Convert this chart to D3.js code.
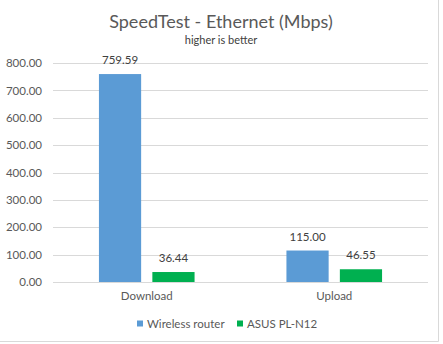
<!DOCTYPE html>
<html><head><meta charset="utf-8">
<script src="https://cdn.jsdelivr.net/npm/d3@7"></script>
<style>body{margin:0;background:#fff;}</style>
</head><body>
<svg id="c" width="443" height="344"></svg>
<script>
const categories = ["Download", "Upload"];
const seriesNames = ["Wireless router", "ASUS PL-N12"];
const wirelessRouter = [759.59, 115.00];
const asusPLN12 = [36.44, 46.55];
const yTicks = [0, 100, 200, 300, 400, 500, 600, 700, 800];
const colors = ["#5B9BD5", "#00B050"];

const svg = d3.select("#c");
const font = "Lato";
const W = 443, H = 344;
const plotL = 53, plotR = 428, plotT = 63, plotB = 282;

svg.append("rect").attr("width", W).attr("height", H).attr("fill", "#fff");
// border right and bottom
svg.append("line").attr("x1", 438.5).attr("x2", 438.5).attr("y1", 0).attr("y2", 341.5).attr("stroke", "#d9d9d9");
svg.append("line").attr("x1", 0).attr("x2", 438.5).attr("y1", 341.5).attr("y2", 341.5).attr("stroke", "#d9d9d9");

const y = d3.scaleLinear().domain([0, 800]).range([plotB, plotT]);
const x0 = d3.scaleBand().domain(categories).range([plotL, plotR]).paddingInner(0.49).paddingOuter(0.245);
const x1 = d3.scaleBand().domain(seriesNames).range([0, x0.bandwidth()]).paddingInner(0.21);

// gridlines
svg.append("g").selectAll("line").data(yTicks).join("line")
  .attr("x1", plotL).attr("x2", plotR)
  .attr("y1", d => Math.round(y(d)) + 0.5).attr("y2", d => Math.round(y(d)) + 0.5)
  .attr("stroke", "#d9d9d9").attr("stroke-width", 1);

// y axis labels
const yAxis = d3.axisLeft(y).tickValues(yTicks).tickFormat(d3.format(".2f")).tickSize(0).tickPadding(0);
const ya = svg.append("g").attr("transform", `translate(${plotL - 11},0)`).call(yAxis);
ya.select(".domain").remove();
ya.selectAll("text").attr("font-family", font).attr("font-size", 11.5).attr("fill", "#595959");

// bars
const data = [wirelessRouter, asusPLN12];
const groups = svg.append("g").selectAll("g").data(categories).join("g")
  .attr("transform", d => `translate(${x0(d)},0)`);
groups.selectAll("rect").data((c, i) => seriesNames.map((s, j) => ({s, v: data[j][i], j}))).join("rect")
  .attr("x", d => x1(d.s)).attr("width", x1.bandwidth())
  .attr("y", d => y(d.v)).attr("height", d => plotB - y(d.v))
  .attr("fill", d => colors[d.j]);
groups.selectAll("text").data((c, i) => seriesNames.map((s, j) => ({s, v: data[j][i], j}))).join("text")
  .attr("x", d => x1(d.s) + x1.bandwidth() / 2).attr("y", d => y(d.v) - 10)
  .attr("text-anchor", "middle").attr("font-family", font).attr("font-size", 11.5).attr("fill", "#404040")
  .text(d => d3.format(".2f")(d.v));

// baseline
svg.append("line").attr("x1", plotL).attr("x2", plotR).attr("y1", plotB + 0.5).attr("y2", plotB + 0.5).attr("stroke", "#d9d9d9");

// x axis labels
const xAxis = d3.axisBottom(x0).tickSize(0).tickPadding(10);
const xa = svg.append("g").attr("transform", `translate(0,${plotB})`).call(xAxis);
xa.select(".domain").remove();
xa.selectAll("text").attr("font-family", font).attr("font-size", 11.5).attr("fill", "#595959");

// title
svg.append("text").attr("x", 221).attr("y", 28).attr("text-anchor", "middle")
  .attr("font-family", font).attr("font-size", 18).attr("fill", "#595959").text("SpeedTest - Ethernet (Mbps)");
svg.append("text").attr("x", 221).attr("y", 43.5).attr("text-anchor", "middle")
  .attr("font-family", font).attr("font-size", 11).attr("fill", "#404040").text("higher is better");

// legend
const legX = [137, 237];
const leg = svg.append("g").selectAll("g").data(seriesNames).join("g")
  .attr("transform", (d, i) => `translate(${legX[i]},319)`);
leg.append("rect").attr("width", 6).attr("height", 6).attr("y", 1.5).attr("fill", (d, i) => colors[i]);
leg.append("text").attr("x", 10).attr("y", 8.5).attr("font-family", font).attr("font-size", 11.5).attr("fill", "#595959").text(d => d);
</script>
</body></html>
